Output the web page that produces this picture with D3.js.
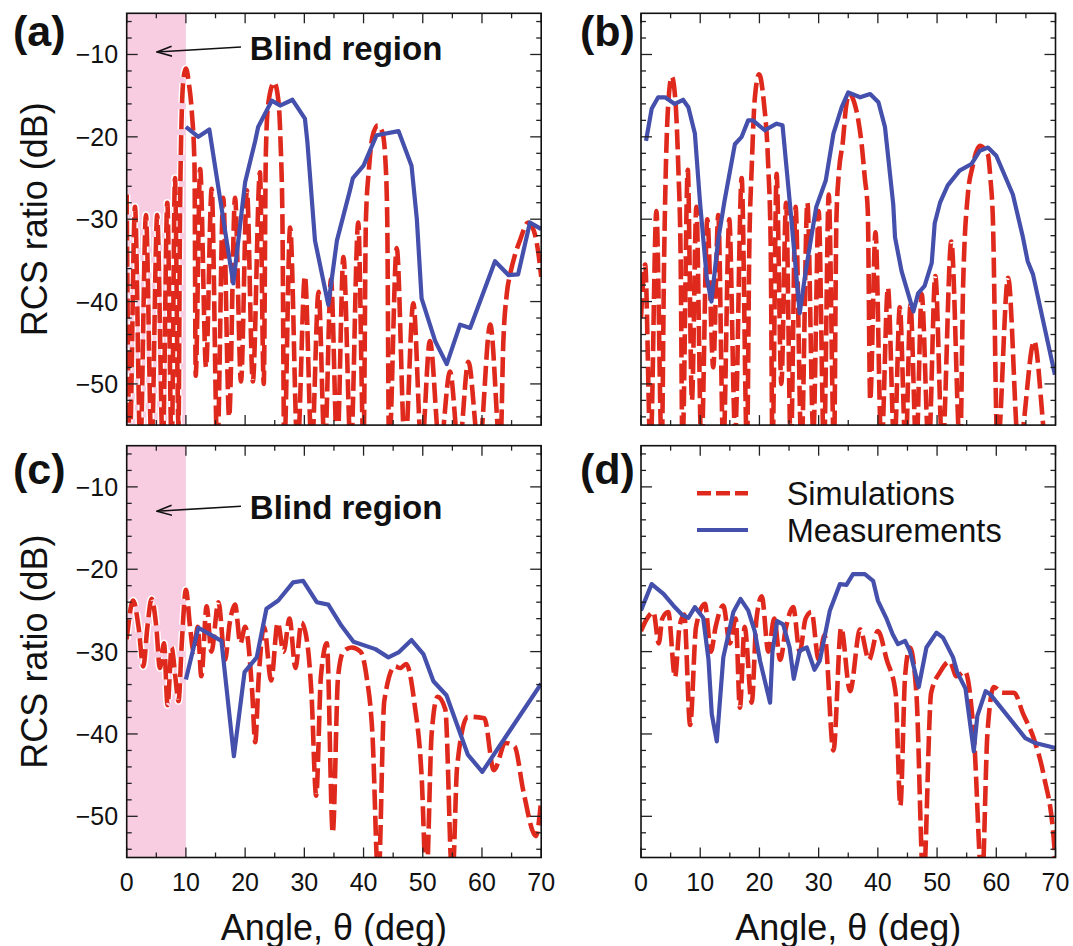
<!DOCTYPE html>
<html><head><meta charset="utf-8">
<script src="https://cdn.jsdelivr.net/npm/d3@7"></script>
<style>html,body{margin:0;padding:0;background:#fff;}svg{display:block;}</style>
</head><body>
<script>
// ---------------- DATA ----------------
const xTicks = [0,10,20,30,40,50,60,70];
const xTickLabels = ["0","10","20","30","40","50","60","70"];
const yTicks = [-50,-40,-30,-20,-10];
const yTickLabels = ["\u221250","\u221240","\u221230","\u221220","\u221210"];
const panelLabels = ["(a)","(b)","(c)","(d)"];
const seriesNames = ["Simulations","Measurements"];
const blindRegion = [0,10];

// Panel (a)
const simA = [[0,-27],[0.5,-58],[1.4,-28.5],[2.3,-58],[3.25,-29.5],[4.2,-58],[5.15,-29.5],[6.1,-58],[6.85,-28],[7.6,-58],[8.15,-25],[8.75,-55],[9.0,-30],[9.3,-17],[9.65,-12.6],[10.0,-11.7],[10.5,-13.5],[11.0,-17],[11.45,-23.5],[11.65,-49],[12.4,-23.9],[13.4,-48],[14.35,-26.3],[15.3,-58],[16.3,-27.4],[17.3,-54],[18.3,-27.4],[19.3,-49.7],[20.3,-26.5],[21.3,-49.7],[22.5,-24.3],[23.15,-50],[23.5,-22],[23.9,-16],[24.9,-13.4],[25.6,-15.5],[26.0,-21],[26.3,-30],[26.6,-58],[27.6,-31],[28.85,-58],[30.1,-36.9],[31.25,-58],[32.4,-38.8],[33.45,-58],[34.5,-37.3],[35.55,-58],[36.6,-34.6],[37.85,-58],[39.1,-30.4],[40.0,-58],[40.4,-30],[40.9,-24],[41.5,-20],[42.4,-18.6],[43.2,-19.5],[43.7,-23],[44.0,-30],[44.3,-58],[45.6,-33.5],[47.0,-58],[48.4,-40.2],[49.8,-58],[51.2,-44.8],[52.9,-58],[54.6,-48.5],[56.1,-58],[57.7,-47.3],[59.5,-58],[61.4,-42.8],[63.1,-58],[63.6,-45],[64.2,-39],[64.75,-36.7],[65.5,-34.5],[66.4,-32.6],[67.8,-30.4],[68.8,-31.5],[69.5,-34],[70,-37]];
const measA = [[10,-18.8],[12.1,-20],[13.95,-19.1],[18,-37.8],[20,-25.5],[21.7,-20.5],[22.2,-18.8],[24.5,-15.6],[25.9,-16.2],[28,-15.5],[30.1,-17.8],[30.5,-20.5],[31.8,-32.6],[34.05,-40.4],[35.5,-32.6],[37.7,-26.5],[38.2,-25],[40,-23.5],[42.2,-19.8],[45.9,-19.3],[48.1,-23.5],[49,-30],[49.8,-39.6],[52.1,-44.8],[54.05,-47.6],[56.3,-42.8],[58,-43.2],[62.2,-35.1],[64.5,-36.8],[66.1,-36.7],[68.1,-30.4],[70,-31.2]];

// Panel (b)
const simB = [[0,-42],[0.7,-35.5],[1.6,-58],[2.6,-29],[3.5,-58],[3.9,-35],[4.2,-23.7],[4.6,-16],[5.2,-12.7],[5.8,-15.5],[6.3,-23.7],[6.7,-35],[7.0,-58],[7.9,-24],[8.6,-52],[9.35,-28.5],[10.2,-58],[11.2,-30],[12.2,-48],[13.05,-29.5],[13.9,-58],[14.9,-30],[15.9,-56],[17.0,-25],[17.9,-58],[18.3,-33],[18.7,-23.7],[19.2,-15.5],[19.95,-12.4],[20.7,-15.5],[21.5,-23.7],[21.9,-33],[22.2,-58],[22.9,-24.5],[23.7,-50],[24.5,-28],[25.3,-58],[26.1,-28.5],[27.1,-58],[28.1,-28],[29.1,-56],[30.0,-29],[30.9,-58],[31.7,-27],[32.6,-58],[33.0,-30],[33.4,-24.5],[34.1,-20.5],[34.6,-16.5],[35.2,-14.8],[36.0,-15.8],[36.7,-18],[37.2,-20.5],[37.8,-25],[38.3,-29],[38.7,-52],[39.6,-31.6],[40.6,-58],[41.7,-38.3],[42.8,-58],[43.7,-40.7],[44.7,-58],[45.5,-40.4],[46.5,-58],[47.4,-39.1],[48.6,-58],[49.7,-36.9],[50.9,-58],[52.4,-32.7],[53.9,-58],[54.4,-38],[55.2,-27],[56.0,-23.6],[57.2,-21.1],[58.6,-22.2],[59.0,-25],[59.4,-29.4],[60.2,-58],[62.0,-37.1],[63.8,-58],[66.4,-44.8],[68.6,-58],[70,-58]];
const measB = [[0.85,-20.5],[1.8,-16.6],[2.9,-15.2],[4.05,-15.2],[5.7,-16],[7.1,-15.5],[8.0,-16.4],[9.1,-19.6],[9.95,-27.8],[11.1,-37.1],[11.9,-40],[13,-32.7],[14.1,-27.8],[15.85,-20.9],[17,-20],[18.1,-18],[18.9,-18],[20.9,-19.2],[22.9,-18.4],[23.9,-18.6],[25.2,-28.5],[26.8,-41.4],[27.9,-35.9],[29.6,-28.5],[31.2,-25.3],[32.5,-19.6],[33.9,-16.4],[35.0,-14.6],[37.0,-15.2],[38.7,-14.8],[40.1,-15.8],[41.2,-18.8],[42.6,-28.2],[42.9,-32.2],[44.0,-36.3],[46.0,-41.2],[46.8,-39],[47.9,-38.1],[49.1,-35.3],[49.6,-30.5],[50.5,-28],[51.8,-25.9],[53.8,-24.1],[55.8,-23.3],[57.2,-21.7],[58.6,-21.3],[60.0,-22.3],[62.8,-27],[64.5,-32.2],[65.3,-35.1],[66.2,-36.7],[69.9,-48.9]];

// Panel (c)
const simC = [[0,-28.5],[1.1,-23.8],[2.0,-27],[2.8,-31.8],[3.5,-27],[4.2,-23.6],[5.0,-27],[5.6,-32],[6.3,-29],[6.9,-36.5],[7.6,-29.5],[8.2,-33],[8.75,-36],[9.3,-29],[10,-22.5],[10.7,-27],[11.3,-30],[12.0,-27],[12.6,-33],[13.5,-24.5],[14.3,-30],[15.5,-24],[16.6,-31],[17.4,-26.5],[18.3,-24.3],[19.2,-29],[20.0,-27],[21.2,-35],[21.7,-41],[22.3,-33],[23.2,-27],[24.4,-33.5],[25.5,-26.5],[26.5,-30],[27.5,-26],[28.5,-32],[29.5,-26.5],[30.5,-29],[31.2,-35],[32,-47.5],[32.8,-33],[33.8,-29],[34.8,-52],[35.7,-33],[36.6,-30],[38,-29.5],[39.5,-30],[40.5,-33],[41.5,-40],[42.5,-58],[43.5,-36],[45.3,-31.8],[46.2,-32],[47.2,-31.5],[48.6,-36.3],[49.8,-45],[50.6,-58],[51.5,-40],[52.5,-35.5],[53.8,-37],[55,-58],[55.8,-44],[57.6,-37.9],[60.4,-38.1],[62,-44.4],[64,-41.1],[65.5,-41.5],[67,-47],[69.1,-52.4],[70,-48]];
const measC = [[10,-33.4],[12.1,-27.1],[16.0,-28.7],[18.1,-42.7],[19.9,-32.5],[21.96,-30.7],[23.6,-24.8],[25.6,-23.8],[28.1,-21.6],[29.8,-21.4],[32.1,-24],[34.05,-24.3],[36.3,-26.9],[38.3,-28.8],[42.0,-29.7],[44.2,-30.7],[45.9,-30.1],[48.1,-28.6],[50.1,-30.3],[51.8,-33.6],[54.0,-35.3],[57.6,-42.5],[60.05,-44.6],[70,-33.9]];

// Panel (d)
const simD = [[0,-27.5],[1,-26],[2.1,-25.2],[3,-29],[3.6,-26],[4.6,-25.2],[5.75,-33.1],[6.5,-27],[7.3,-25.5],[8.3,-38.9],[9.3,-27],[10.8,-24.2],[11.8,-30],[12.6,-27],[13.9,-24.4],[15,-29],[16,-26],[16.7,-36.8],[17.5,-27],[18.7,-36.2],[19.5,-26],[20.4,-23.3],[21.5,-30],[22.5,-26],[23.5,-31],[24.5,-27],[25.7,-24.6],[26.8,-30],[27.8,-26],[28.8,-25.2],[30,-31],[31,-28],[32.5,-42],[33.8,-27.1],[35.3,-34.8],[37,-27.3],[38.5,-31],[40,-27.5],[41.5,-31],[43,-35],[43.8,-48.7],[44.6,-33],[45.4,-29.5],[46.5,-35],[47.7,-58],[49,-35],[50.5,-32.5],[52.1,-31.2],[53.3,-33],[54.7,-32.4],[56.2,-40],[57.6,-58],[58.5,-40],[59.6,-34.3],[61,-35],[63,-35],[64.5,-37.5],[66.3,-40.5],[68,-45],[69.8,-53.6],[70,-58]];
const measD = [[0,-25],[1.8,-21.8],[3.8,-23],[5.45,-24.4],[6.9,-25.5],[8.0,-25.9],[9.1,-24.6],[10.5,-25.9],[11.4,-31],[11.95,-37.6],[12.8,-40.9],[13.9,-30.7],[15.6,-25.2],[16.8,-23.6],[18.1,-25],[19.2,-27.5],[20.1,-31.1],[21.8,-36.2],[22.2,-30],[23.0,-26.3],[24.0,-26.7],[25.1,-29.5],[25.8,-33.3],[26.8,-29.9],[28,-29.5],[29.3,-32.2],[30.2,-31.1],[31.9,-25],[33.6,-21.8],[34.7,-21.9],[35.8,-20.6],[37.8,-20.6],[39.2,-21.4],[40.0,-23.8],[41.4,-25.9],[42.5,-27.9],[43.4,-29.1],[44.6,-28.7],[45.4,-29.9],[46.9,-34.3],[48.2,-29.5],[49.9,-27.7],[51.0,-28.3],[52.7,-30.7],[53.4,-32.5],[54.8,-34.5],[56.2,-42.1],[56.8,-37.8],[58.2,-34.8],[59,-35.2],[64.9,-40.5],[66.6,-41.1],[70,-41.7]];

// ---------------- LAYOUT ----------------
const W = 1073, H = 946;
const font = "'Liberation Sans', Arial, Helvetica, sans-serif";
const red = "#e0291d", blue = "#4450ab", pink = "#f8cde1";
const panels = [
  {id:"a", sim:simA, meas:measA, left:126.7, top:13.3, yLabels:true, xLabels:false, blind:true, legend:false, lx:13, ly:46},
  {id:"b", sim:simB, meas:measB, left:641, top:13.3, yLabels:false, xLabels:false, blind:false, legend:false, lx:580, ly:46},
  {id:"c", sim:simC, meas:measC, left:126.7, top:445.7, yLabels:true, xLabels:true, blind:true, legend:false, lx:13, ly:484},
  {id:"d", sim:simD, meas:measD, left:641, top:445.7, yLabels:false, xLabels:true, blind:false, legend:true, lx:580, ly:484}
];
const pw = 414.5, ph = 411.8;

const svg = d3.select("body").append("svg").attr("width", W).attr("height", H)
  .style("font-family", font);
const defs = svg.append("defs");
defs.append("marker")
  .attr("id","arr").attr("viewBox","0 0 16 12").attr("refX",15).attr("refY",6)
  .attr("markerWidth",16).attr("markerHeight",12).attr("markerUnits","userSpaceOnUse")
  .attr("orient","auto")
  .append("path").attr("d","M0,1 L15,6 L0,11").attr("fill","none").attr("stroke","#111").attr("stroke-width",1.6);

panels.forEach((p, i) => {
  const x = d3.scaleLinear().domain([0,70]).range([p.left, p.left + pw]);
  const y = d3.scaleLinear().domain([-55,-5]).range([p.top + ph, p.top]);
  const g = svg.append("g");
  const clipId = "clip" + p.id;
  defs.append("clipPath").attr("id", clipId)
    .append("rect").attr("x", p.left).attr("y", p.top).attr("width", pw).attr("height", ph);

  if (p.blind) {
    g.append("rect").attr("x", x(blindRegion[0])).attr("y", p.top)
      .attr("width", x(blindRegion[1]) - x(blindRegion[0])).attr("height", ph)
      .attr("fill", pink);
  }

  const lines = g.append("g").attr("clip-path", `url(#${clipId})`);
  const simLine = d3.line().x(d => x(d[0])).y(d => y(d[1])).curve(d3.curveMonotoneX)(p.sim);
  lines.append("path").attr("d", simLine).attr("fill","none")
    .attr("stroke","#fff").attr("stroke-width",7.5).attr("stroke-dasharray","20,6");
  lines.append("path").attr("d", simLine).attr("fill","none")
    .attr("stroke",red).attr("stroke-width",4.6).attr("stroke-dasharray","20,6");
  const measLine = d3.line().x(d => x(d[0])).y(d => y(d[1])).curve(d3.curveLinear)(p.meas);
  lines.append("path").attr("d", measLine).attr("fill","none")
    .attr("stroke",blue).attr("stroke-width",4.2).attr("stroke-linejoin","round");

  const tk = g.append("g").attr("stroke","#222").attr("stroke-width",1.3);
  d3.range(0, 71, 5).forEach(v => {
    const len = (v % 10 === 0) ? 10 : 5;
    tk.append("line").attr("x1", x(v)).attr("x2", x(v)).attr("y1", p.top + ph).attr("y2", p.top + ph - len);
    tk.append("line").attr("x1", x(v)).attr("x2", x(v)).attr("y1", p.top).attr("y2", p.top + len);
  });
  d3.range(-54, -5, 2).forEach(v => {
    const len = (v % 10 === 0) ? 11 : 5;
    tk.append("line").attr("x1", p.left).attr("x2", p.left + len).attr("y1", y(v)).attr("y2", y(v));
    tk.append("line").attr("x1", p.left + pw).attr("x2", p.left + pw - len).attr("y1", y(v)).attr("y2", y(v));
  });
  g.append("rect").attr("x", p.left).attr("y", p.top).attr("width", pw).attr("height", ph)
    .attr("fill","none").attr("stroke","#111").attr("stroke-width",1.6);

  if (p.yLabels) {
    yTicks.forEach((v, k) => {
      g.append("text").attr("x", p.left - 8.5).attr("y", y(v) + 9)
        .attr("text-anchor","end").attr("font-size",25).attr("fill","#111").text(yTickLabels[k]);
    });
    g.append("text").attr("transform", `translate(47,${p.top + ph/2}) rotate(-90)`)
      .attr("text-anchor","middle").attr("font-size",36).attr("fill","#111").text("RCS ratio (dB)");
  }
  if (p.xLabels) {
    xTicks.forEach((v, k) => {
      g.append("text").attr("x", x(v)).attr("y", p.top + ph + 33)
        .attr("text-anchor","middle").attr("font-size",25).attr("fill","#111").text(xTickLabels[k]);
    });
    g.append("text").attr("x", p.left + pw/2).attr("y", p.top + ph + 82)
      .attr("text-anchor","middle").attr("font-size",36).attr("fill","#111").text("Angle, \u03b8 (deg)");
  }
  g.append("text").attr("x", p.lx).attr("y", p.ly)
    .attr("font-size",43).attr("font-weight","bold").attr("fill","#111").text(panelLabels[i]);

  if (p.blind) {
    const ay1 = (p.id === "a") ? -9.1 : -12.35;
    const ay2 = (p.id === "a") ? -9.7 : -12.95;
    g.append("line").attr("x1", x(19.3)).attr("y1", y(ay1)).attr("x2", x(5.1)).attr("y2", y(ay2))
      .attr("stroke","#111").attr("stroke-width",1.6).attr("marker-end","url(#arr)");
    g.append("text").attr("x", x(20.8)).attr("y", y(ay1) + 12.5)
      .attr("font-size",33).attr("font-weight","bold").attr("fill","#111").text("Blind region");
  }
  if (p.legend) {
    const lg = g.append("g");
    lg.append("line").attr("x1", p.left + 56).attr("x2", p.left + 107).attr("y1", p.top + 47.6).attr("y2", p.top + 47.6)
      .attr("stroke", red).attr("stroke-width",4.6).attr("stroke-dasharray","14,5");
    lg.append("text").attr("x", p.left + 145.7).attr("y", p.top + 59.3).attr("font-size",32.5).attr("fill","#111").text(seriesNames[0]);
    lg.append("line").attr("x1", p.left + 56).attr("x2", p.left + 107).attr("y1", p.top + 84.3).attr("y2", p.top + 84.3)
      .attr("stroke", blue).attr("stroke-width",4.2);
    lg.append("text").attr("x", p.left + 145.7).attr("y", p.top + 96).attr("font-size",32.5).attr("fill","#111").text(seriesNames[1]);
  }
});
</script>
</body></html>
